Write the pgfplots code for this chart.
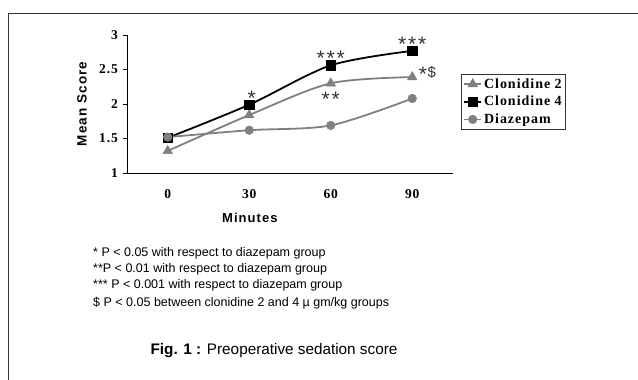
\documentclass[border=0pt]{standalone}
\usepackage{fontspec}
\setmainfont{Liberation Serif}
\setsansfont{Liberation Sans}
\newfontfamily\tfont[LetterSpace=7]{Liberation Serif}
\newfontfamily\lsans[LetterSpace=8]{Liberation Sans}
\usepackage{pgfplots}
\pgfplotsset{compat=1.18}
\definecolor{sgray}{HTML}{808080}
\definecolor{fgray}{HTML}{333333}
\begin{document}
\begin{tikzpicture}
\useasboundingbox (0,0) rectangle (638pt,-380pt);
\draw[fgray, line width=1pt] (8pt,-380pt) -- (8pt,-13pt) -- (638pt,-13pt);
\begin{axis}[
  at={(127pt,-173pt)}, anchor=south west,
  scale only axis, width=326pt, height=138pt,
  xmin=-0.5, xmax=3.5, ymin=1, ymax=3,
  axis x line*=bottom, axis y line*=left,
  axis line style={line width=0.9pt, -},
  xtick={0,1,2,3}, xticklabels={0,30,60,90},
  x tick style={draw=none},
  ytick={1,1.5,2,2.5,3},
  y tick style={line width=0.8pt, black},
  tick align=outside, major tick length=4.5pt,
  /pgf/number format/assume math mode=true,
  tick label style={font=\fontsize{13.5}{15}\tfont\bfseries},
  xticklabel style={yshift=-8pt},
  yticklabel style={xshift=-1pt},
  xlabel={\fontsize{13}{15}\lsans\bfseries Minutes},
  ylabel={\fontsize{13.5}{15}\lsans\bfseries Mean Score},
  xlabel style={at={(axis description cs:0.377,0)}, anchor=center, yshift=-45pt},
  ylabel style={at={(axis description cs:0,0.5)}, anchor=center, yshift=45pt},
  legend style={at={(1.0245,0.7174)}, anchor=north west, draw=fgray, line width=0.8pt,
    font=\fontsize{14}{16}\tfont\bfseries, inner sep=2pt, row sep=2.5pt,
    legend cell align=left},
  legend image post style={line width=1.6pt},
  clip=false,
]
\addplot[sgray, line width=1.8pt, smooth, tension=0.5, mark=triangle*, mark size=5.5pt, mark options={fill=sgray, solid, line width=0.5pt}]
  coordinates {(0,1.32) (1,1.84) (2,2.30) (3,2.39)};
\addlegendentry{Clonidine 2}
\addplot[black, line width=1.8pt, smooth, tension=0.5, mark=square*, mark size=4.8pt, mark options={fill=black, solid, line width=0.5pt}]
  coordinates {(0,1.51) (1,1.99) (2,2.56) (3,2.77)};
\addlegendentry{Clonidine 4}
\addplot[sgray, line width=1.8pt, smooth, tension=0.5, mark=*, mark size=4.3pt, mark options={fill=sgray, solid, line width=0.5pt}]
  coordinates {(0,1.52) (1,1.62) (2,1.69) (3,2.08)};
\addlegendentry{Diazepam}
\begin{scope}[every node/.style={font=\fontsize{21}{22}\selectfont\sffamily, text=fgray, inner sep=0pt}]
\node[anchor=base] at (axis cs:1.03,1.985) {*};
\node[anchor=base] at (axis cs:2,2.551) {*\hspace{1.8pt}*\hspace{1.8pt}*};
\node[anchor=base] at (axis cs:2,1.957) {*\hspace{1.8pt}*};
\node[anchor=base] at (axis cs:3,2.754) {*\hspace{1.8pt}*\hspace{1.8pt}*};
\node[anchor=base west] at (axis cs:3.08,2.377) {\raisebox{-4pt}{*}\hspace{0.5pt}\fontsize{15}{16}\selectfont\$};
\end{scope}
\end{axis}
\begin{scope}[every node/.style={font=\fontsize{12.5}{14}\selectfont\sffamily, inner sep=0pt, anchor=base west}]
\node at (93pt,-256pt) {* P < 0.05 with respect to diazepam group};
\node at (93pt,-272pt) {**P < 0.01 with respect to diazepam group};
\node at (93pt,-288pt) {*** P < 0.001 with respect to diazepam group};
\node at (93pt,-306pt) {\$ P < 0.05 between clonidine 2 and 4 µ gm/kg groups};
\end{scope}
\node[font=\fontsize{15.3}{17}\selectfont\sffamily, inner sep=0pt, anchor=base] at (274pt,-354pt) {\textbf{Fig. 1 :} Preoperative sedation score};
\end{tikzpicture}
\end{document}
